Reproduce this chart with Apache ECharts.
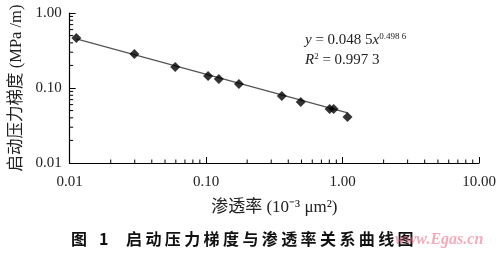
<!DOCTYPE html>
<html>
<head>
<meta charset="utf-8">
<script src="https://cdn.jsdelivr.net/npm/echarts@6/dist/echarts.min.js"></script>
<style>html,body{margin:0;padding:0;background:#fff;}#c{width:500px;height:254px;}</style>
</head>
<body>
<div id="c"></div>
<script>
// Measured data (permeability, start-up pressure gradient)
const permeability = [0.0112, 0.0298, 0.0594, 0.1034, 0.124, 0.174, 0.359, 0.494, 0.804, 0.860, 1.087];
const gradient     = [0.464, 0.284, 0.190, 0.145, 0.132, 0.113, 0.0782, 0.065, 0.0525, 0.0525, 0.041];
// Trend line endpoints
const trendX = [0.0112, 1.09];
const trendY = [0.452, 0.0465];
// Axis ranges / labels
const xMin = 0.01, xMax = 10;
const yMin = 0.01, yMax = 1;
const xDecades = [0.01, 0.1, 1];
const yDecades = [0.01, 0.1];
const minorMultipliers = [2, 3, 4, 5, 6, 7, 8, 9];
const xAxisName = '渗透率 (10\u207B\u00B3 \u03BCm\u00B2)';
const yAxisName = '启动压力梯度 (MPa /m)';
const captionFig = '图';
const captionNum = '1';
const captionTitle = '启动压力梯度与渗透率关系曲线图';

const xMinor = [];
xDecades.forEach(d => minorMultipliers.forEach(m => xMinor.push([d * m, yMin])));
const yMinor = [];
yDecades.forEach(d => minorMultipliers.forEach(m => yMinor.push([xMin, d * m])));

const chart = echarts.init(document.getElementById('c'), null, {renderer: 'canvas'});
const serif = '"Liberation Serif", "Times New Roman", serif';
const cjkFont = '"Noto Sans CJK SC", sans-serif';

const captionGraphics = [
  {type: 'text', left: 71, top: 231, style: {text: captionFig, fontFamily: cjkFont, fontWeight: 'bold', fontSize: 16, fill: '#111'}},
  {type: 'text', left: 99, top: 231, style: {text: captionNum, fontFamily: cjkFont, fontWeight: 'bold', fontSize: 16, fill: '#111'}}
];
captionTitle.split('').forEach((ch, i) => {
  captionGraphics.push({type: 'text', left: 126 + i * 19.4, top: 231,
    style: {text: ch, fontFamily: cjkFont, fontWeight: 'bold', fontSize: 16, fill: '#111'}});
});

chart.setOption({
  animation: false,
  backgroundColor: '#fff',
  grid: {left: 67, right: 21, top: 13, bottom: 91},
  xAxis: {
    type: 'log', logBase: 10, min: xMin, max: xMax,
    name: xAxisName, nameLocation: 'middle', nameGap: 36,
    nameTextStyle: {fontFamily: '"Liberation Serif","Noto Sans CJK SC", serif', fontSize: 17, color: '#222'},
    axisLine: {lineStyle: {color: '#000', width: 1.2}},
    axisTick: {inside: true, length: 6, lineStyle: {color: '#000'}},
    axisLabel: {formatter: v => v.toFixed(2), fontFamily: serif, fontSize: 15, color: '#222', margin: 12},
    splitLine: {show: false}
  },
  yAxis: {
    type: 'log', logBase: 10, min: yMin, max: yMax,
    name: yAxisName, nameLocation: 'middle', nameGap: 45, nameRotate: 90,
    nameTextStyle: {fontFamily: '"Liberation Serif","Noto Sans CJK SC", serif', fontSize: 16.5, color: '#222'},
    axisLine: {lineStyle: {color: '#000', width: 1.2}},
    axisTick: {inside: true, length: 6, lineStyle: {color: '#000'}},
    axisLabel: {formatter: v => v.toFixed(2), fontFamily: serif, fontSize: 15, color: '#222', margin: 8},
    splitLine: {show: false}
  },
  series: [
    {
      type: 'line', data: trendX.map((x, i) => [x, trendY[i]]),
      symbol: 'none', lineStyle: {color: '#555', width: 1.3}, z: 2
    },
    {
      type: 'scatter', data: permeability.map((x, i) => [x, gradient[i]]),
      symbol: 'diamond', symbolSize: 10, itemStyle: {color: '#000'}, z: 3
    },
    {
      type: 'custom', data: xMinor, clip: false, silent: true,
      renderItem: (params, api) => {
        const p = api.coord([api.value(0), api.value(1)]);
        return {type: 'line', shape: {x1: p[0], y1: p[1], x2: p[0], y2: p[1] - 3.5}, style: {stroke: '#000', lineWidth: 1}};
      }
    },
    {
      type: 'custom', data: yMinor, clip: false, silent: true,
      renderItem: (params, api) => {
        const p = api.coord([api.value(0), api.value(1)]);
        return {type: 'line', shape: {x1: p[0], y1: p[1], x2: p[0] + 3.5, y2: p[1]}, style: {stroke: '#000', lineWidth: 1}};
      }
    }
  ],
  graphic: [
    {
      type: 'text', left: 305, top: 32,
      style: {
        text: '{i|y} = 0.048 5{i|x}{s|0.498 6}',
        rich: {
          i: {fontFamily: serif, fontStyle: 'italic', fontSize: 15, fill: '#222'},
          s: {fontFamily: serif, fontSize: 9, fill: '#222', padding: [0, 0, 8, 0]}
        },
        fontFamily: serif, fontSize: 15, fill: '#222'
      }
    },
    {
      type: 'text', left: 305, top: 52,
      style: {
        text: '{i|R}{s|2} = 0.997 3',
        rich: {
          i: {fontFamily: serif, fontStyle: 'italic', fontSize: 15, fill: '#222'},
          s: {fontFamily: serif, fontSize: 9, fill: '#222', padding: [0, 0, 8, 0]}
        },
        fontFamily: serif, fontSize: 15, fill: '#222'
      }
    }
  ].concat(captionGraphics).concat([
    {
      type: 'text', left: 395, top: 232, z: 10,
      style: {text: 'www.Egas.cn', fontFamily: serif, fontStyle: 'italic', fontWeight: 'bold', fontSize: 16, fill: 'rgba(235,100,125,0.55)'}
    }
  ])
});
</script>
</body>
</html>
